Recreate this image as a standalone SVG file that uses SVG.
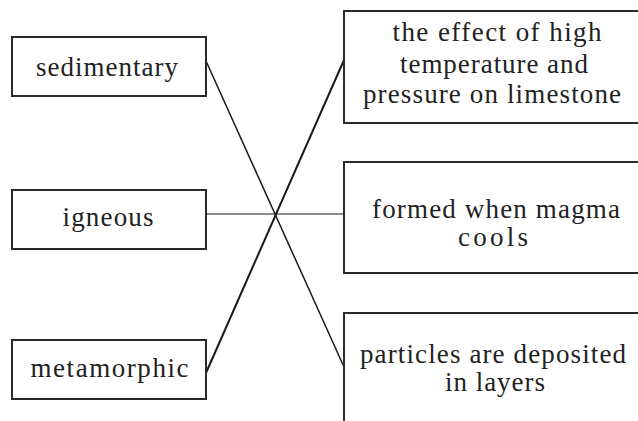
<svg xmlns="http://www.w3.org/2000/svg" width="638" height="421" viewBox="0 0 638 421" font-family="Liberation Serif, DejaVu Serif, Noto Serif, serif">
<style>
.box{fill:#fff;stroke:#2a2a2a;stroke-width:2}
.t{font-size:27px;fill:#222;text-anchor:middle}
.c{stroke:#1a1a1a;stroke-width:1.5;fill:none}
</style>
<rect x="0" y="0" width="638" height="421" fill="#fff"/>
<g id="connectors">
<line class="c" x1="206" y1="61" x2="344" y2="367"/>
<line class="c" x1="206" y1="214" x2="344" y2="214" style="stroke-width:1.2"/>
<line class="c" x1="206" y1="373" x2="344" y2="60" style="stroke-width:2"/>
</g>
<g id="sedimentary">
<rect class="box" x="12" y="37" width="194" height="59"/>
<text class="t" x="107" y="76" textLength="142" lengthAdjust="spacing">sedimentary</text>
</g>
<g id="igneous">
<rect class="box" x="12" y="190" width="194" height="59"/>
<text class="t" x="108" y="226" textLength="91" lengthAdjust="spacing">igneous</text>
</g>
<g id="metamorphic">
<rect class="box" x="12" y="340" width="194" height="59"/>
<text class="t" x="109.5" y="377" textLength="158" lengthAdjust="spacing">metamorphic</text>
</g>
<g id="effect">
<rect class="box" x="344" y="11" width="310" height="112"/>
<text class="t" x="497" y="41" textLength="209" lengthAdjust="spacing">the effect of high</text>
<text class="t" x="494" y="73" textLength="188" lengthAdjust="spacing">temperature and</text>
<text class="t" x="492" y="103" textLength="258" lengthAdjust="spacing">pressure on limestone</text>
</g>
<g id="magma">
<rect class="box" x="344" y="162" width="310" height="111"/>
<text class="t" x="496" y="218" textLength="248" lengthAdjust="spacing">formed when magma</text>
<text class="t" x="493" y="246" textLength="70" lengthAdjust="spacing">cools</text>
</g>
<g id="particles">
<rect class="box" x="344" y="313" width="310" height="130"/>
<text class="t" x="493" y="363" textLength="266" lengthAdjust="spacing">particles are deposited</text>
<text class="t" x="495" y="391" textLength="100" lengthAdjust="spacing">in layers</text>
</g>
</svg>
